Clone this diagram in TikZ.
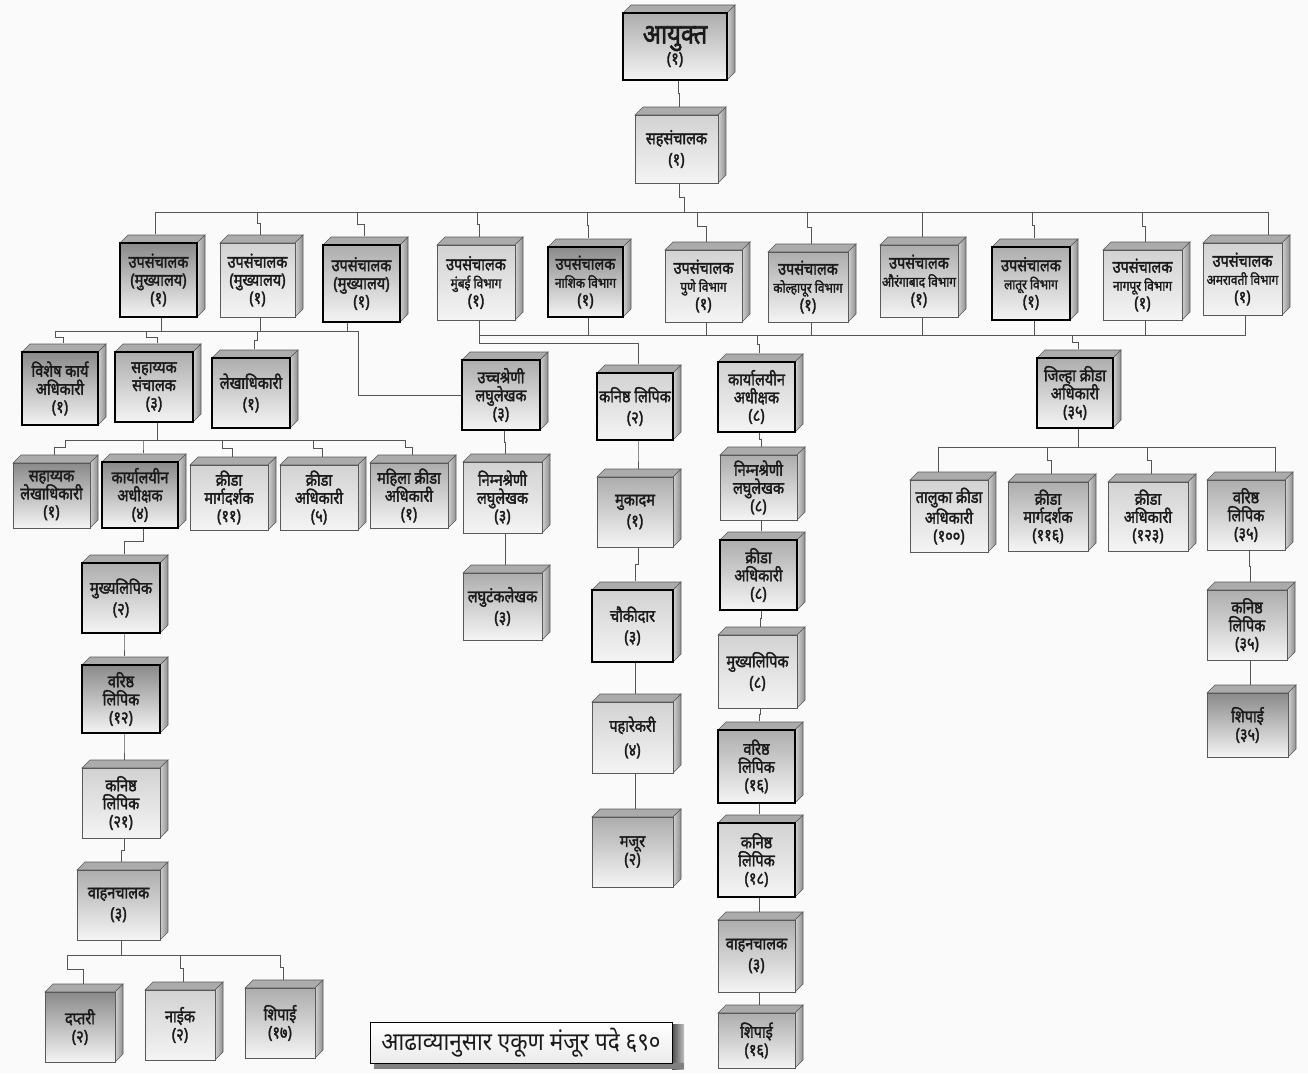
\documentclass[tikz,border=0pt]{standalone}
\usepackage{fontspec}
\newfontfamily\dev[Script=Devanagari,FakeStretch=0.85,FakeBold=2]{Noto Sans}
\newfontfamily\devt[Script=Devanagari,FakeStretch=0.9]{Noto Sans}
\usetikzlibrary{calc}
\pgfdeclarelayer{background}
\pgfsetlayers{background,main}
\definecolor{paper}{HTML}{FAFAFA}
\definecolor{dktop}{HTML}{8A8A8A}
\definecolor{mdtop}{HTML}{ADADAD}
\definecolor{lttop}{HTML}{D2D2D2}
\definecolor{mid}{HTML}{EEEEEE}
\definecolor{bot}{HTML}{F4F4F4}
\definecolor{facetop}{HTML}{ABABAB}
\definecolor{sidel}{HTML}{D0D0D0}
\definecolor{sider}{HTML}{8E8E8E}
\definecolor{linec}{HTML}{555555}
\definecolor{txt}{HTML}{1A1A1A}
\tikzset{
  box/.style={rectangle, inner sep=0pt, align=center, text=txt,
    font=\dev\fontsize{17}{18}\selectfont},
  dk/.style={top color=dktop, middle color=mid, bottom color=bot},
  md/.style={top color=mdtop, middle color=mid, bottom color=bot},
  lt/.style={top color=lttop, middle color=mid, bottom color=bot},
  thk/.style={draw=black, line width=1.3pt},
  thn/.style={draw=black!65, line width=0.8pt},
  topface/.style={fill=facetop, draw=black!65, line width=0.6pt},
  sideface/.style={left color=sidel, right color=sider, draw=black!65, line width=0.6pt},
  cn/.style={draw=linec, line width=0.9pt},
  midjog/.style={to path={|- ($(\tikztostart)!0.5!(\tikztotarget)$) -| (\tikztotarget)}},
}
% #1 name, #2 x1, #3 y1, #4 x2, #5 y2, #6 style, #7 text
\newcommand\ob[7]{%
  \path[topface] (#2,#3) -- ({#2+8},{#3-8}) -- ({#4+8},{#3-8}) -- (#4,#3) -- cycle;
  \path[sideface] (#4,#3) -- ({#4+8},{#3-8}) -- ({#4+8},{#5-8}) -- (#4,#5) -- cycle;
  \node[box,#6,minimum width={#4-#2},minimum height={#5-#3}] (#1) at ({(#2+#4)/2},{(#3+#5)/2}) {#7};
  \coordinate (#1-t) at ([shift={(3,-8)}]#1.north);
  \coordinate (#1-b) at ([shift={(3,0)}]#1.south);
}
\newcommand\sm{\fontsize{14}{17}\selectfont}
\begin{document}
\begin{tikzpicture}[x=1pt,y=-1pt]
\begin{pgfonlayer}{background}
  \fill[paper] (0,0) rectangle (1308,1073);
\end{pgfonlayer}
\useasboundingbox (0,0) rectangle (1308,1073);

% top
\ob{A}{623}{13}{727}{80}{md,thk}{{\fontsize{28}{30}\selectfont आयुक्त}\\(१)}
\ob{B}{635}{115}{718}{183}{lt,thn}{सहसंचालक\\[3pt](१)}
% row 2
\ob{u1}{120}{243}{197}{317}{dk,thk}{उपसंचालक\\(मुख्यालय)\\(१)}
\ob{u2}{220}{243}{295}{317}{lt,thn}{उपसंचालक\\(मुख्यालय)\\(१)}
\ob{u3}{323}{245}{400}{322}{md,thk}{उपसंचालक\\(मुख्यालय)\\(१)}
\ob{u4}{437}{245}{515}{320}{lt,thn}{उपसंचालक\\{\sm मुंबई विभाग}\\(१)}
\ob{u5}{548}{247}{623}{317}{dk,thk}{उपसंचालक\\{\sm नाशिक विभाग}\\(१)}
\ob{u6}{665}{250}{742}{322}{lt,thn}{उपसंचालक\\{\sm पुणे विभाग}\\(१)}
\ob{u7}{768}{252}{848}{322}{md,thn}{उपसंचालक\\{\sm कोल्हापूर विभाग}\\(१)}
\ob{u8}{880}{245}{958}{317}{md,thn}{उपसंचालक\\{\sm औरंगाबाद विभाग}\\(१)}
\ob{u9}{992}{247}{1070}{320}{md,thk}{उपसंचालक\\{\sm लातूर विभाग}\\(१)}
\ob{u10}{1103}{250}{1182}{320}{lt,thn}{उपसंचालक\\{\sm नागपूर विभाग}\\(१)}
\ob{u11}{1203}{243}{1282}{315}{lt,thn}{उपसंचालक\\{\sm अमरावती विभाग}\\(१)}
% left branch
\ob{vis}{22}{352}{98}{425}{dk,thk}{विशेष कार्य\\अधिकारी\\(१)}
\ob{sah}{115}{352}{193}{422}{md,thk}{सहाय्यक\\संचालक\\(३)}
\ob{lek}{212}{358}{290}{428}{md,thk}{लेखाधिकारी\\[3pt](१)}
\ob{sl}{13}{463}{90}{528}{dk,thn}{सहाय्यक\\लेखाधिकारी\\(१)}
\ob{ka4}{102}{462}{178}{528}{dk,thk}{कार्यालयीन\\अधीक्षक\\(४)}
\ob{mgL}{190}{465}{268}{530}{lt,thn}{क्रीडा\\मार्गदर्शक\\(११)}
\ob{krL}{280}{465}{358}{530}{lt,thn}{क्रीडा\\अधिकारी\\(५)}
\ob{mah}{370}{463}{448}{528}{md,thn}{महिला क्रीडा\\अधिकारी\\(१)}
\ob{ml2}{82}{563}{160}{633}{md,thk}{मुख्यलिपिक\\[3pt](२)}
\ob{v12}{82}{665}{160}{733}{dk,thk}{वरिष्ठ\\लिपिक\\(१२)}
\ob{k21}{82}{768}{160}{838}{lt,thn}{कनिष्ठ\\लिपिक\\(२१)}
\ob{vh3}{77}{870}{160}{940}{md,thn}{वाहनचालक\\[3pt](३)}
\ob{dap}{45}{992}{115}{1062}{dk,thn}{दप्तरी\\(२)}
\ob{nai}{145}{990}{215}{1060}{lt,thn}{नाईक\\(२)}
\ob{sp17}{245}{988}{315}{1058}{md,thn}{शिपाई\\(१७)}
% middle branches
\ob{ucc}{462}{360}{540}{430}{md,thk}{उच्चश्रेणी\\लघुलेखक\\(३)}
\ob{nm3}{463}{462}{542}{533}{lt,thn}{निम्नश्रेणी\\लघुलेखक\\(३)}
\ob{lag}{463}{573}{542}{640}{md,thn}{लघुटंकलेखक\\[3pt](३)}
\ob{kn2}{597}{373}{673}{440}{lt,thk}{कनिष्ठ लिपिक\\[3pt](२)}
\ob{muk}{597}{477}{673}{547}{md,thn}{मुकादम\\[3pt](१)}
\ob{cho}{592}{590}{673}{662}{lt,thk}{चौकीदार\\[3pt](३)}
\ob{pah}{592}{702}{673}{773}{lt,thn}{पहारेकरी\\[6pt](४)}
\ob{maj}{592}{817}{673}{887}{md,thn}{मजूर\\(२)}
\ob{ka8}{718}{362}{795}{432}{lt,thk}{कार्यालयीन\\अधीक्षक\\(८)}
\ob{nm8}{720}{455}{797}{520}{md,thn}{निम्नश्रेणी\\लघुलेखक\\(८)}
\ob{kr8}{720}{540}{797}{610}{md,thk}{क्रीडा\\अधिकारी\\(८)}
\ob{mk8}{718}{635}{797}{708}{lt,thn}{मुख्यलिपिक\\[3pt](८)}
\ob{v16}{718}{730}{795}{803}{md,thk}{वरिष्ठ\\लिपिक\\(१६)}
\ob{k18}{718}{823}{795}{897}{lt,thk}{कनिष्ठ\\लिपिक\\(१८)}
\ob{vh8}{718}{920}{795}{992}{md,thn}{वाहनचालक\\[3pt](३)}
\ob{sp16}{718}{1013}{795}{1068}{md,thn}{शिपाई\\(१६)}
% right branch
\ob{jil}{1037}{358}{1113}{428}{md,thk}{जिल्हा क्रीडा\\अधिकारी\\(३५)}
\ob{tal}{910}{480}{988}{552}{lt,thn}{तालुका क्रीडा\\अधिकारी\\(१००)}
\ob{mgJ}{1008}{482}{1088}{551}{md,thn}{क्रीडा\\मार्गदर्शक\\(११६)}
\ob{krJ}{1108}{482}{1188}{551}{lt,thn}{क्रीडा\\अधिकारी\\(१२३)}
\ob{vrJ}{1207}{480}{1285}{550}{md,thn}{वरिष्ठ\\लिपिक\\(३५)}
\ob{knJ}{1207}{590}{1287}{660}{md,thn}{कनिष्ठ\\लिपिक\\(३५)}
\ob{spJ}{1207}{693}{1288}{757}{dk,thn}{शिपाई\\(३५)}

% total
\shade[left color=black!70, right color=black!25] (672,1024) rectangle (684,1069);
\fill[black!50] (374,1063) rectangle (684,1069);
\node[draw=black, line width=1pt, top color=white, bottom color=black!8,
  minimum width=302, minimum height=41, inner sep=0pt, text=txt,
  font=\devt\fontsize{25}{28}\selectfont] (tot) at (521,1042.5) {आढाव्यानुसार एकूण मंजूर पदे ६९०};

% connectors
\begin{pgfonlayer}{background}
  \draw[cn] (A-b) to[midjog] (B-t);
  \coordinate (b2m) at (684,212);
  \coordinate (b2L) at (155,212);
  \coordinate (b2R) at (1268,212);
  \draw[cn] (B-b) to[midjog] (b2m);
  \draw[cn] (b2L) -- (b2R);
  \draw[cn] (b2L) -- (b2L |- u1-t);
  \draw[cn] (b2R) -- (b2R |- u11-t);
  \foreach \n/\x in {u2/257,u3/357,u4/477,u5/587,u6/697,u7/807,u8/922,u9/1032,u10/1142}{
    \coordinate (d-\n) at (\x,212);
    \draw[cn] (d-\n) to[midjog] (\n-t);
  }
  % headquarters bus
  \coordinate (mL) at (55,331);
  \coordinate (mR) at (358,331);
  \draw[cn] (mL) -- (mR);
  \draw[cn] (u1-b) -- (u1-b |- mL);
  \draw[cn] (u2-b) -- (u2-b |- mL);
  \path ($(u3-b)+(-17,0)$) coordinate (u3d);
  \draw[cn] (u3d) -- (u3d |- mL);
  \draw[cn] (mL) to[midjog] (vis-t);
  \coordinate (m2) at (146,331);
  \draw[cn] (m2) to[midjog] (sah-t);
  \coordinate (m3) at (257,331);
  \draw[cn] (m3) to[midjog] (lek-t);
  \draw[cn] (mR) |- (ucc.west);
  % division bus
  \coordinate (dY) at (0,335);
  \draw[cn] (u4-b |- dY) -- (u11-b |- dY);
  \foreach \n in {u5,u6,u7,u8,u9,u10,u11}{
    \draw[cn] (\n-b) -- (\n-b |- dY);
  }
  \draw[cn] (u4-b) -- ++(0,23) -| (kn2-t);
  \coordinate (dk8) at (757,335);
  \draw[cn] (dk8) to[midjog] (ka8-t);
  \coordinate (dj) at (1072,335);
  \draw[cn] (dj) to[midjog] (jil-t);
  % district bus
  \coordinate (jL) at (938,447);
  \coordinate (jR) at (1275,447);
  \draw[cn] (jil-b) -- (jil-b |- jL);
  \draw[cn] (jL) -- (jR);
  \draw[cn] (jL) -- (jL |- tal-t);
  \coordinate (j2) at (1047,447);
  \draw[cn] (j2) to[midjog] (mgJ-t);
  \coordinate (j3) at (1147,447);
  \draw[cn] (j3) to[midjog] (krJ-t);
  \draw[cn] (jR) -- (jR |- vrJ-t);
  \draw[cn] (vrJ-b) to[midjog] (knJ-t);
  \draw[cn] (knJ-b) to[midjog] (spJ-t);
  % assistant director bus
  \coordinate (sL) at (65,440);
  \coordinate (sR) at (405,440);
  \draw[cn] (sah-b) -- (sah-b |- sL);
  \draw[cn] (sL) -- (sR);
  \draw[cn] (sL) to[midjog] (sl-t);
  \coordinate (s2) at (143,440);
  \draw[cn] (s2) to[midjog] (ka4-t);
  \coordinate (s3) at (222,440);
  \draw[cn] (s3) to[midjog] (mgL-t);
  \coordinate (s4) at (313,440);
  \draw[cn] (s4) to[midjog] (krL-t);
  \draw[cn] (sR) to[midjog] (mah-t);
  % left column
  \draw[cn] (ka4-b) to[midjog] (ml2-t);
  \draw[cn] (ml2-b) to[midjog] (v12-t);
  \draw[cn] (v12-b) to[midjog] (k21-t);
  \draw[cn] (k21-b) to[midjog] (vh3-t);
  \coordinate (vL) at (67,955);
  \coordinate (vR) at (280,955);
  \draw[cn] (vh3-b) -- (vh3-b |- vL);
  \draw[cn] (vL) -- (vR);
  \draw[cn] (vL) to[midjog] (dap-t);
  \coordinate (v2) at (180,955);
  \draw[cn] (v2) to[midjog] (nai-t);
  \draw[cn] (vR) to[midjog] (sp17-t);
  % middle columns
  \draw[cn] (ucc-b) to[midjog] (nm3-t);
  \draw[cn] (nm3-b) to[midjog] (lag-t);
  \draw[cn] (kn2-b) to[midjog] (muk-t);
  \draw[cn] (muk-b) to[midjog] (cho-t);
  \draw[cn] (cho-b) to[midjog] (pah-t);
  \draw[cn] (pah-b) to[midjog] (maj-t);
  \draw[cn] (ka8-b) to[midjog] (nm8-t);
  \draw[cn] (nm8-b) to[midjog] (kr8-t);
  \draw[cn] (kr8-b) to[midjog] (mk8-t);
  \draw[cn] (mk8-b) to[midjog] (v16-t);
  \draw[cn] (v16-b) to[midjog] (k18-t);
  \draw[cn] (k18-b) to[midjog] (vh8-t);
  \draw[cn] (vh8-b) to[midjog] (sp16-t);
\end{pgfonlayer}
\end{tikzpicture}
\end{document}
